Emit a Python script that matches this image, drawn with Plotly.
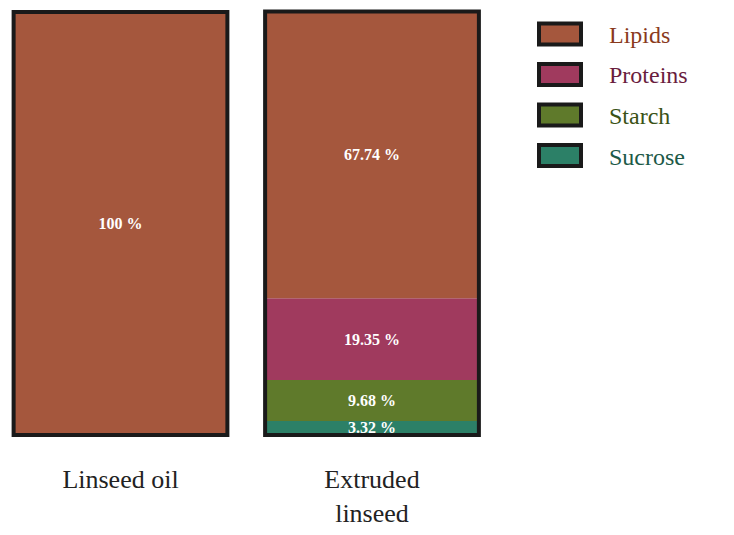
import plotly.graph_objects as go

categories = ["Linseed oil", "Extruded linseed"]
tick_labels = ["Linseed oil", "Extruded<br>linseed"]
# stacking order bottom -> top
series_names = ["Sucrose", "Starch", "Proteins", "Lipids"]
sucrose = [0, 3.32]
starch = [0, 9.68]
proteins = [0, 19.35]
lipids = [100, 67.74]
fill_colors = ["#2c8067", "#5f7a2b", "#a03a5e", "#a5573d"]
text_colors = ["#1d5a48", "#3a5216", "#6a1d3e", "#8a3a1c"]

series_values = [sucrose, starch, proteins, lipids]
W, H = 734, 535
OFF = 8  # page body margin offset
# desired plot area in screenshot pixels
AX0, AX1, AY0, AY1 = 10, 500, 8, 439
L, R, T, B = AX0 - OFF, W - (AX1 - OFF), AY0 - OFF, H - (AY1 - OFF)
xs = [0, 1]

fig = go.Figure()
bases = [0.0, 0.0]
for name, vals, col in zip(series_names, series_values, fill_colors):
    fig.add_trace(go.Bar(
        x=xs, y=vals, base=list(bases), name=name,
        marker=dict(color=col, line=dict(width=0)),
        width=0.85,
        text=[f"{v:g} %" if v else "" for v in vals],
        textposition="inside", insidetextanchor="middle",
        constraintext="none",
        textfont=dict(family="Liberation Serif", size=16, color="white", weight="bold"),
        showlegend=False, hoverinfo="skip",
    ))
    bases = [b + v for b, v in zip(bases, vals)]

totals = bases
fig.add_trace(go.Bar(
    x=xs, y=totals, base=[0, 0], width=0.85,
    marker=dict(color="rgba(0,0,0,0)", line=dict(color="#1a1a1a", width=4)),
    showlegend=False, hoverinfo="skip",
))

pw = W - L - R
ph = H - T - B
def px_x(p):
    return (p - OFF - L) / pw
def px_y(p):
    return 1 - (p - OFF - T) / ph

shapes = []
annotations = []
legend_order = list(reversed(range(len(series_names))))
for i, k in enumerate(legend_order):
    cy = 34 + i * 40.5
    shapes.append(dict(type="rect", xref="paper", yref="paper",
                       x0=px_x(539), x1=px_x(581), y0=px_y(cy - 10.5), y1=px_y(cy + 10.5),
                       fillcolor=fill_colors[k], line=dict(color="#1a1a1a", width=4)))
    annotations.append(dict(xref="paper", yref="paper", x=px_x(607), y=px_y(cy + 1),
                            xanchor="left", yanchor="middle", showarrow=False,
                            text=series_names[k],
                            font=dict(family="Liberation Serif", size=24, color=text_colors[k])))

ppu = 423 / 100.0
fig.update_layout(
    width=W, height=H,
    margin=dict(l=L, r=R, t=T, b=B, pad=0),
    paper_bgcolor="white", plot_bgcolor="white",
    barmode="overlay",
    xaxis=dict(range=[(AX0 - 120.5) / 251.5, (AX1 - 120.5) / 251.5], tickvals=xs, ticktext=tick_labels,
               showgrid=False, zeroline=False, showline=False, ticks="",
               tickfont=dict(family="Liberation Serif", size=26, color="#222222"),
               ticklabelstandoff=22),
    yaxis=dict(range=[-4 / ppu, 100 + 4 / ppu], visible=False, showgrid=False, zeroline=False),
    shapes=shapes, annotations=annotations,
)

fig.write_html("out.html")
